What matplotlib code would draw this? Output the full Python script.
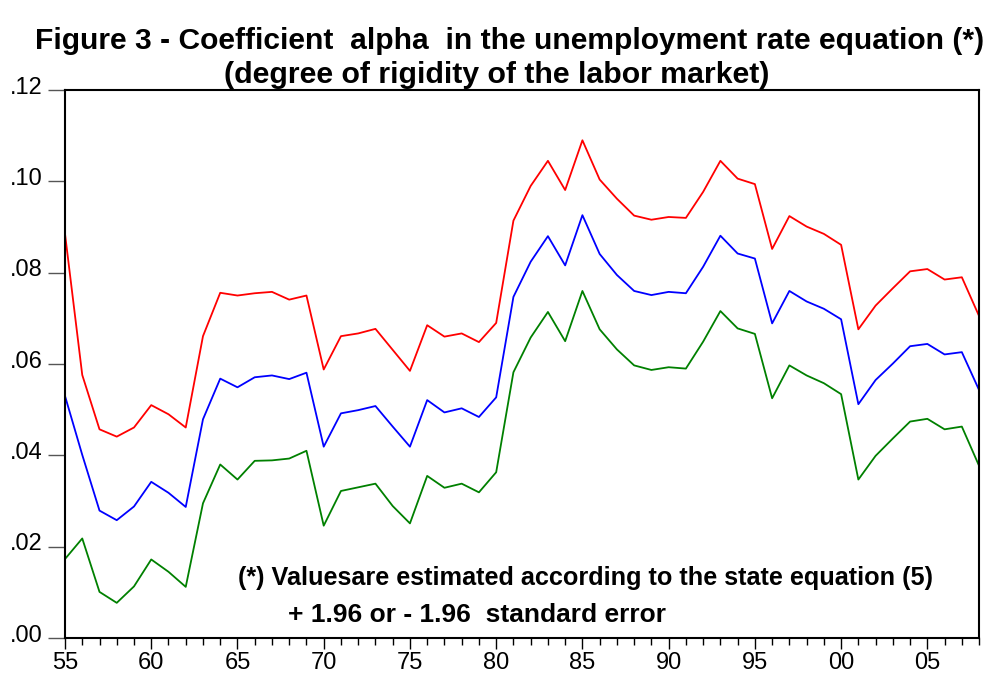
import matplotlib
matplotlib.use('Agg')
import matplotlib.pyplot as plt
import matplotlib.transforms as mtransforms
from matplotlib.ticker import FixedLocator, FuncFormatter, MultipleLocator

years = list(range(1955, 2009))

upper = [
    0.0885, 0.0576, 0.0457, 0.0441, 0.0461, 0.0510, 0.0490, 0.0461, 0.0661, 0.0756,
    0.0750, 0.0755, 0.0758, 0.0741, 0.0750, 0.0588, 0.0661, 0.0667, 0.0677, 0.0631,
    0.0585, 0.0685, 0.0660, 0.0667, 0.0648, 0.0690, 0.0914, 0.0990, 0.1045, 0.0981,
    0.1090, 0.1004, 0.0962, 0.0925, 0.0916, 0.0922, 0.0920, 0.0977, 0.1045, 0.1006,
    0.0994, 0.0852, 0.0924, 0.0901, 0.0885, 0.0861, 0.0676, 0.0728, 0.0766, 0.0803,
    0.0808, 0.0785, 0.0790, 0.0705,
]

alpha = [
    0.0530, 0.0401, 0.0279, 0.0258, 0.0288, 0.0342, 0.0318, 0.0287, 0.0479, 0.0568,
    0.0549, 0.0571, 0.0575, 0.0567, 0.0581, 0.0419, 0.0492, 0.0499, 0.0508, 0.0463,
    0.0419, 0.0521, 0.0494, 0.0503, 0.0484, 0.0527, 0.0747, 0.0824, 0.0880, 0.0816,
    0.0926, 0.0841, 0.0795, 0.0760, 0.0751, 0.0758, 0.0755, 0.0813, 0.0881, 0.0842,
    0.0831, 0.0689, 0.0760, 0.0737, 0.0721, 0.0698, 0.0512, 0.0565, 0.0601, 0.0639,
    0.0644, 0.0621, 0.0626, 0.0543,
]

lower = [
    0.0173, 0.0218, 0.0101, 0.0077, 0.0113, 0.0172, 0.0145, 0.0112, 0.0295, 0.0380,
    0.0347, 0.0388, 0.0389, 0.0393, 0.0410, 0.0246, 0.0322, 0.0330, 0.0338, 0.0289,
    0.0251, 0.0355, 0.0329, 0.0338, 0.0319, 0.0363, 0.0582, 0.0658, 0.0714, 0.0650,
    0.0760, 0.0676, 0.0632, 0.0597, 0.0587, 0.0593, 0.0590, 0.0649, 0.0716, 0.0678,
    0.0666, 0.0525, 0.0597, 0.0575, 0.0558, 0.0534, 0.0347, 0.0399, 0.0437, 0.0474,
    0.0480, 0.0457, 0.0463, 0.0377,
]

yticks = [0.00, 0.02, 0.04, 0.06, 0.08, 0.10, 0.12]
xticks = [1955, 1960, 1965, 1970, 1975, 1980, 1985, 1990, 1995, 2000, 2005]

plt.rcParams['font.family'] = ['Liberation Sans', 'DejaVu Sans']

fig = plt.figure(figsize=(9.94, 6.77), dpi=100)
ax = fig.add_axes([0.0654, 0.0576, 0.9196, 0.8094])

ax.plot(years, upper, color='#ff0000', lw=1.3)
ax.plot(years, alpha, color='#0000ff', lw=1.3)
ax.plot(years, lower, color='#008000', lw=1.3)

ax.set_xlim(1955, 2008)
ax.set_ylim(0, 0.12)

ax.xaxis.set_major_locator(FixedLocator(xticks))
ax.xaxis.set_minor_locator(MultipleLocator(1))
ax.xaxis.set_major_formatter(FuncFormatter(lambda v, p: '%02d' % (int(v) % 100)))
ax.yaxis.set_major_locator(FixedLocator(yticks))
ax.yaxis.set_major_formatter(FuncFormatter(lambda v, p: ('%.2f' % v)[1:]))

ax.tick_params(axis='both', which='major', labelsize=17, direction='out', width=1)
ax.tick_params(axis='x', which='major', length=8, pad=2)
ax.tick_params(axis='x', which='minor', length=5, width=1)
ax.tick_params(axis='y', which='major', length=12, pad=4, color='#555555')
for s in ax.spines.values():
    s.set_linewidth(1.5)

# y labels sit a little above their ticks in the original
shift = mtransforms.ScaledTranslation(0, 0.05, fig.dpi_scale_trans)
for lbl in ax.get_yticklabels():
    lbl.set_transform(lbl.get_transform() + shift)

fig.text(0.513, 0.94, 'Figure 3 - Coefficient  alpha  in the unemployment rate equation (*)',
         ha='center', va='center', fontsize=21.6, fontweight='bold')
fig.text(0.50, 0.889, '(degree of rigidity of the labor market)',
         ha='center', va='center', fontsize=21.8, fontweight='bold')

fig.text(0.239, 0.146, '(*) Valuesare estimated according to the state equation (5)',
         ha='left', va='center', fontsize=18.2, fontweight='bold')
fig.text(0.29, 0.092, '+ 1.96 or - 1.96  standard error',
         ha='left', va='center', fontsize=19, fontweight='bold')

fig.savefig('out.png', dpi=100)
